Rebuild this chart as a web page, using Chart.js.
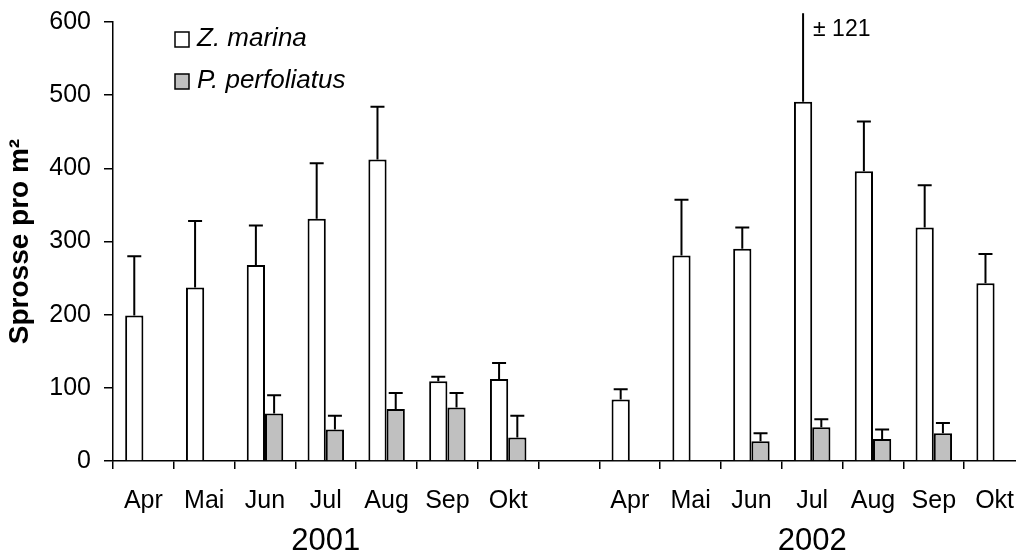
<!DOCTYPE html>
<html>
<head>
<meta charset="utf-8">
<script src="https://cdn.jsdelivr.net/npm/chart.js@4"></script>
<style>
  html, body { margin: 0; padding: 0; background: #fff; overflow: hidden; }
  #wrap { position: absolute; left: 0; top: 0; width: 1030px; height: 553px; }
</style>
</head>
<body>
<div id="wrap"><canvas id="chart" width="1030" height="553"></canvas></div>
<script>
// Monthly shoot density, two seasons separated by an empty slot
const months = ['Apr', 'Mai', 'Jun', 'Jul', 'Aug', 'Sep', 'Okt'];
const categories = [...months, '', ...months];
const years = ['2001', '2002'];
const yearAt = [3, 11];   // category index each year label sits under

const zMarina    = [199, 237, 268, 331, 412, 109, 112, null, 84, 281, 290, 491, 396, 319, 243];
const zMarinaErr = [81, 91, 54, 76, 72, 6, 22, null, 14, 76, 29, 121, 68, 58, 40];
const pPerf      = [0, 0, 65, 43, 71, 73, 32, null, 0, 0, 27, 46, 30, 38, 0];
const pPerfErr   = [0, 0, 25, 19, 22, 20, 30, null, 0, 0, 11, 11, 13, 14, 0];

const yTicks = [0, 100, 200, 300, 400, 500, 600];

const FONT = '"Liberation Sans", Arial, sans-serif';

// upper error whiskers; a whisker running past the axis top gets no cap but a ± label
const errorBars = {
    id: 'errorBars',
    afterDatasetsDraw(chart) {
        const { ctx, chartArea } = chart;
        const y = chart.scales.y;
        ctx.save();
        ctx.strokeStyle = '#000';
        ctx.lineWidth = 2;
        chart.data.datasets.forEach((ds, i) => {
            const meta = chart.getDatasetMeta(i);
            meta.data.forEach((bar, j) => {
                const v = ds.data[j];
                const e = ds.errors[j];
                if (v == null || !e) return;
                const top = y.getPixelForValue(v + e);
                ctx.beginPath();
                ctx.moveTo(bar.x, bar.y);
                ctx.lineTo(bar.x, top);
                if (v + e <= y.max) {
                    ctx.moveTo(bar.x - 7, top);
                    ctx.lineTo(bar.x + 7, top);
                }
                ctx.stroke();
                if (v + e > y.max) {
                    ctx.fillStyle = '#000';
                    ctx.font = '23px ' + FONT;
                    ctx.textAlign = 'left';
                    ctx.textBaseline = 'middle';
                    ctx.fillText('\u00b1 ' + e, bar.x + 10, chartArea.top + 8);
                }
            });
        });
        ctx.restore();
    }
};

// legend boxes inside the plot, top left
const insideLegend = {
    id: 'insideLegend',
    afterDraw(chart) {
        const ctx = chart.ctx;
        ctx.save();
        ctx.font = 'italic 26px ' + FONT;
        ctx.textAlign = 'left';
        ctx.textBaseline = 'middle';
        chart.data.datasets.forEach((ds, i) => {
            const top = 32 + i * 42;
            ctx.fillStyle = ds.backgroundColor;
            ctx.fillRect(175, top, 14, 15);
            ctx.strokeStyle = '#000';
            ctx.lineWidth = 1.5;
            ctx.strokeRect(175, top, 14, 15);
            ctx.fillStyle = '#000';
            ctx.fillText(ds.label, 197, top + 7);
        });
        ctx.restore();
    }
};

// year captions under the month labels
const yearLabels = {
    id: 'yearLabels',
    afterDraw(chart) {
        const ctx = chart.ctx;
        const x = chart.scales.x;
        ctx.save();
        ctx.font = '31px ' + FONT;
        ctx.fillStyle = '#000';
        ctx.textAlign = 'center';
        ctx.textBaseline = 'middle';
        years.forEach((yr, i) => {
            ctx.fillText(yr, x.getPixelForValue(yearAt[i]), 541);
        });
        ctx.restore();
    }
};

new Chart(document.getElementById('chart'), {
    type: 'bar',
    data: {
        labels: categories,
        datasets: [{
            label: 'Z. marina',
            data: zMarina,
            errors: zMarinaErr,
            backgroundColor: '#ffffff',
            borderColor: '#000',
            borderWidth: 2
        }, {
            label: 'P. perfoliatus',
            data: pPerf,
            errors: pPerfErr,
            backgroundColor: '#c0c0c0',
            borderColor: '#000',
            borderWidth: 2
        }]
    },
    options: {
        responsive: false,
        animation: false,
        devicePixelRatio: 1,
        categoryPercentage: 0.6,
        barPercentage: 1.0,
        layout: { padding: { top: 22, right: 5, left: 0, bottom: 0 } },
        plugins: {
            legend: { display: false },
            tooltip: { enabled: false }
        },
        scales: {
            x: {
                grid: {
                    offset: true,
                    drawOnChartArea: false,
                    drawTicks: true,
                    tickLength: 8,
                    color: '#000',
                    lineWidth: 1.5
                },
                border: { color: '#000', width: 1.5 },
                ticks: {
                    color: '#000',
                    font: { family: FONT, size: 25 },
                    padding: 17,
                    maxRotation: 0,
                    autoSkip: false
                },
                afterFit(scale) {
                    scale.height = 92;
                    scale.paddingLeft = 0;
                    scale.paddingRight = 0;
                }
            },
            y: {
                min: 0,
                max: 600,
                afterBuildTicks(scale) { scale.ticks = yTicks.map(v => ({ value: v })); },
                grid: {
                    drawOnChartArea: false,
                    drawTicks: true,
                    tickLength: 9,
                    color: '#000',
                    lineWidth: 1.5
                },
                border: { color: '#000', width: 1.5 },
                ticks: {
                    color: '#000',
                    font: { family: FONT, size: 25 },
                    padding: 13
                },
                title: {
                    display: true,
                    text: 'Sprosse pro m\u00b2',
                    color: '#000',
                    font: { family: FONT, size: 28, weight: 'bold' },
                    padding: { top: 3, bottom: 0 }
                },
                afterFit(scale) {
                    scale.width = 113;
                    scale.paddingTop = 0;
                    scale.paddingBottom = 0;
                }
            }
        }
    },
    plugins: [errorBars, insideLegend, yearLabels]
});
</script>
</body>
</html>
